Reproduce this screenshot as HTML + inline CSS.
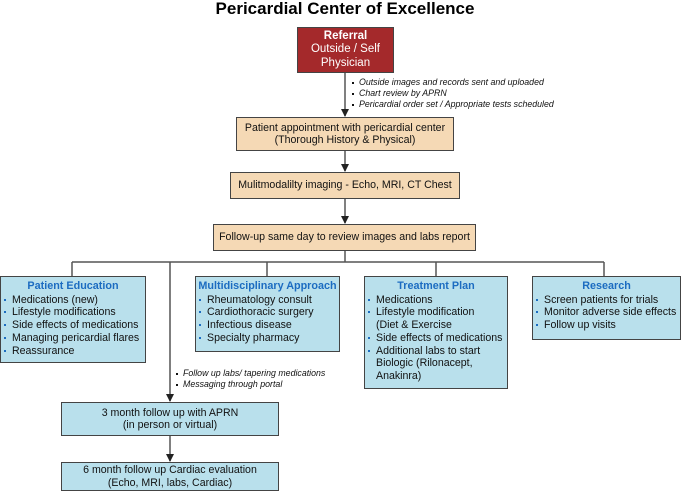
<!DOCTYPE html>
<html><head><style>
body{margin:0;width:681px;height:492px;background:#fff;font-family:"Liberation Sans",Arial,sans-serif;position:relative;overflow:hidden}
.b{position:absolute;box-sizing:border-box;border:1.5px solid #444;font-size:10.6px;color:#111}
.t{background:#f5d9b5;text-align:center;line-height:12.5px;display:flex;align-items:center;justify-content:center;flex-direction:column}
.bl{background:#b9e0ec;line-height:12.7px;padding:3px 2px}
.bl h{display:block;text-align:center;color:#1c6cc1;font-weight:bold;font-size:10.8px;margin-bottom:1px}
.bl div{padding-left:9px;position:relative;white-space:nowrap}
.bl div:before{content:"";position:absolute;left:1px;top:5px;width:2px;height:2px;background:#1c6cc1}
.bl .c{padding-left:9px}.bl .c:before{display:none}
.n{position:absolute;font-size:8.8px;font-style:italic;line-height:10.8px;color:#111;white-space:nowrap}
.n div{position:relative;padding-left:7px}
.n div:before{content:"";position:absolute;left:0;top:5px;width:2px;height:2px;background:#111}
svg{position:absolute;left:0;top:0}
</style></head><body>
<div style="position:absolute;left:0;width:690px;top:-1px;text-align:center;font-weight:bold;font-size:17px">Pericardial Center of Excellence</div>
<svg width="681" height="492">
<defs><marker id="a" markerWidth="8" markerHeight="8" refX="7" refY="4" orient="auto" markerUnits="userSpaceOnUse"><path d="M0,0L8,4L0,8z" fill="#222"/></marker></defs>
<g stroke="#555" stroke-width="1.5" fill="none">
<line x1="345" y1="72" x2="345" y2="116" marker-end="url(#a)"/>
<line x1="345" y1="150" x2="345" y2="171" marker-end="url(#a)"/>
<line x1="345" y1="198" x2="345" y2="223" marker-end="url(#a)"/>
<line x1="345" y1="250" x2="345" y2="262"/>
<line x1="72" y1="262" x2="604" y2="262"/>
<line x1="72" y1="262" x2="72" y2="276"/>
<line x1="267" y1="262" x2="267" y2="276"/>
<line x1="436" y1="262" x2="436" y2="276"/>
<line x1="604" y1="262" x2="604" y2="276"/>
<line x1="170" y1="262" x2="170" y2="401" marker-end="url(#a)"/>
<line x1="170" y1="435" x2="170" y2="461" marker-end="url(#a)"/>
</g></svg>
<div class="b t" style="left:297px;top:27px;width:97px;height:46px;background:#a4292b;color:#fff;font-size:11.5px;line-height:13.5px"><b>Referral</b>Outside / Self<br>Physician</div>
<div class="n" style="left:352px;top:77px"><div>Outside images and records sent and uploaded</div><div>Chart review by APRN</div><div>Pericardial order set / Appropriate tests scheduled</div></div>
<div class="b t" style="left:236px;top:117px;width:218px;height:34px">Patient appointment with pericardial center<br>(Thorough History &amp; Physical)</div>
<div class="b t" style="left:230px;top:172px;width:230px;height:27px">Mulitmodalilty imaging - Echo, MRI, CT Chest</div>
<div class="b t" style="left:213px;top:224px;width:263px;height:27px">Follow-up same day to review images and labs report</div>
<div class="b bl" style="left:0;top:276px;width:146px;height:87px"><h>Patient Education</h><div>Medications (new)</div><div>Lifestyle modifications</div><div>Side effects of medications</div><div>Managing pericardial flares</div><div>Reassurance</div></div>
<div class="b bl" style="left:195px;top:276px;width:145px;height:76px"><h>Multidisciplinary Approach</h><div>Rheumatology consult</div><div>Cardiothoracic surgery</div><div>Infectious disease</div><div>Specialty pharmacy</div></div>
<div class="b bl" style="left:364px;top:276px;width:144px;height:113px"><h>Treatment Plan</h><div>Medications</div><div>Lifestyle modification</div><div class="c">(Diet &amp; Exercise</div><div>Side effects of medications</div><div>Additional labs to start</div><div class="c">Biologic (Rilonacept,</div><div class="c">Anakinra)</div></div>
<div class="b bl" style="left:532px;top:276px;width:149px;height:64px"><h>Research</h><div>Screen patients for trials</div><div>Monitor adverse side effects</div><div>Follow up visits</div></div>
<div class="n" style="left:176px;top:368px"><div>Follow up labs/ tapering medications</div><div>Messaging through portal</div></div>
<div class="b t" style="left:61px;top:402px;width:218px;height:34px;background:#b9e0ec">3 month follow up with APRN<br>(in person or virtual)</div>
<div class="b t" style="left:61px;top:462px;width:218px;height:29px;background:#b9e0ec">6 month follow up Cardiac evaluation<br>(Echo, MRI, labs, Cardiac)</div>
</body></html>
